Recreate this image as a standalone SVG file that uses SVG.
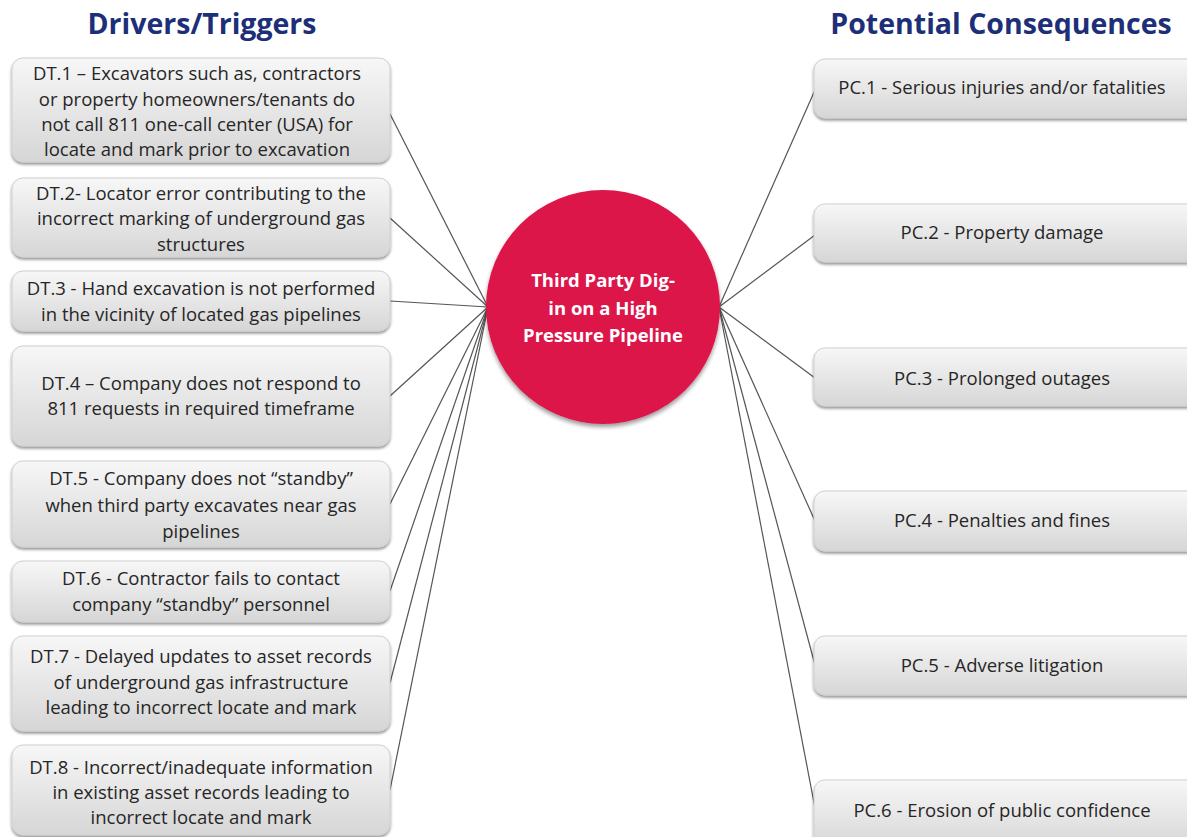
<svg xmlns="http://www.w3.org/2000/svg" width="1187" height="837" viewBox="0 0 1187 837">
<defs>
<linearGradient id="bg" x1="0" y1="0" x2="0" y2="1">
<stop offset="0" stop-color="#f7f7f7"/>
<stop offset="1" stop-color="#d6d6d6"/>
</linearGradient>
<filter id="sh" x="-5%" y="-10%" width="110%" height="130%">
<feGaussianBlur in="SourceAlpha" stdDeviation="1.5"/>
<feOffset dx="0" dy="2" result="b"/>
<feComponentTransfer><feFuncA type="linear" slope="0.45"/></feComponentTransfer>
<feMerge><feMergeNode/><feMergeNode in="SourceGraphic"/></feMerge>
</filter>
<filter id="csh" x="-10%" y="-10%" width="120%" height="125%">
<feGaussianBlur in="SourceAlpha" stdDeviation="2"/>
<feOffset dx="0" dy="3"/>
<feComponentTransfer><feFuncA type="linear" slope="0.4"/></feComponentTransfer>
<feMerge><feMergeNode/><feMergeNode in="SourceGraphic"/></feMerge>
</filter>
</defs>
<style>
.box{fill:url(#bg);stroke:#d0d0d0;stroke-width:1;filter:url(#sh)}
.t{font-family:"Open Sans","Liberation Sans",Arial,sans-serif;font-size:18.5px;fill:#262626;text-anchor:middle}
.title{font-family:"Open Sans","Liberation Sans",sans-serif;font-size:28.5px;font-weight:bold;fill:#1c2f78;text-anchor:middle}
.ct{font-family:"Open Sans","Liberation Sans",sans-serif;font-size:18.5px;font-weight:bold;fill:#ffffff;text-anchor:middle}
.c{stroke:#555;stroke-width:1.2;fill:none}
</style>
<rect width="1187" height="837" fill="#ffffff"/>
<text class="title" x="202" y="34">Drivers/Triggers</text>
<text class="title" x="1001" y="34">Potential Consequences</text>
<g id="connectors">
<line class="c" x1="388" y1="110" x2="488" y2="307"/>
<line class="c" x1="390" y1="218" x2="488" y2="307"/>
<line class="c" x1="390" y1="301" x2="488" y2="307"/>
<line class="c" x1="390" y1="396" x2="488" y2="307"/>
<line class="c" x1="390" y1="504" x2="488" y2="307"/>
<line class="c" x1="390" y1="591" x2="488" y2="307"/>
<line class="c" x1="390" y1="683" x2="488" y2="307"/>
<line class="c" x1="390" y1="790" x2="488" y2="307"/>
<line class="c" x1="719" y1="307" x2="815" y2="90"/>
<line class="c" x1="719" y1="307" x2="815" y2="235"/>
<line class="c" x1="719" y1="307" x2="815" y2="378"/>
<line class="c" x1="719" y1="307" x2="815" y2="521"/>
<line class="c" x1="719" y1="307" x2="815" y2="665"/>
<line class="c" x1="719" y1="307" x2="815" y2="808"/>
</g>
<g id="center">
<circle cx="603" cy="307" r="117" fill="#dc1449" filter="url(#csh)"/>
<text class="ct" x="603" y="287">Third Party Dig-</text>
<text class="ct" x="603" y="315">in on a High</text>
<text class="ct" x="603" y="342">Pressure Pipeline</text>
</g>
<g id="DT1"><rect class="box" x="12" y="58" width="378" height="104" rx="11"/>
<text class="t" x="197" y="80">DT.1 – Excavators such as, contractors</text>
<text class="t" x="197" y="106">or property homeowners/tenants do</text>
<text class="t" x="197" y="131">not call 811 one-call center (USA) for</text>
<text class="t" x="197" y="156">locate and mark prior to excavation</text></g>
<g id="DT2"><rect class="box" x="12" y="178" width="378" height="79" rx="11"/>
<text class="t" x="201" y="200">DT.2- Locator error contributing to the</text>
<text class="t" x="201" y="225">incorrect marking of underground gas</text>
<text class="t" x="201" y="251">structures</text></g>
<g id="DT3"><rect class="box" x="12" y="271" width="378" height="60" rx="11"/>
<text class="t" x="201" y="295">DT.3 - Hand excavation is not performed</text>
<text class="t" x="201" y="321">in the vicinity of located gas pipelines</text></g>
<g id="DT4"><rect class="box" x="12" y="346" width="378" height="100" rx="11"/>
<text class="t" x="201" y="390">DT.4 – Company does not respond to</text>
<text class="t" x="201" y="415">811 requests in required timeframe</text></g>
<g id="DT5"><rect class="box" x="12" y="461" width="378" height="86" rx="11"/>
<text class="t" x="201" y="485">DT.5 - Company does not “standby”</text>
<text class="t" x="201" y="512">when third party excavates near gas</text>
<text class="t" x="201" y="538">pipelines</text></g>
<g id="DT6"><rect class="box" x="12" y="561" width="378" height="61" rx="11"/>
<text class="t" x="201" y="585">DT.6 - Contractor fails to contact</text>
<text class="t" x="201" y="611">company “standby” personnel</text></g>
<g id="DT7"><rect class="box" x="12" y="636" width="378" height="95" rx="11"/>
<text class="t" x="201" y="663">DT.7 - Delayed updates to asset records</text>
<text class="t" x="201" y="689">of underground gas infrastructure</text>
<text class="t" x="201" y="714">leading to incorrect locate and mark</text></g>
<g id="DT8"><rect class="box" x="12" y="745" width="378" height="90" rx="11"/>
<text class="t" x="201" y="774">DT.8 - Incorrect/inadequate information</text>
<text class="t" x="201" y="799">in existing asset records leading to</text>
<text class="t" x="201" y="824">incorrect locate and mark</text></g>
<g id="PC1"><rect class="box" x="814" y="59" width="385" height="59" rx="11"/>
<text class="t" x="1002" y="94">PC.1 - Serious injuries and/or fatalities</text></g>
<g id="PC2"><rect class="box" x="814" y="204" width="385" height="58" rx="11"/>
<text class="t" x="1002" y="239">PC.2 - Property damage</text></g>
<g id="PC3"><rect class="box" x="814" y="348" width="385" height="58" rx="11"/>
<text class="t" x="1002" y="385">PC.3 - Prolonged outages</text></g>
<g id="PC4"><rect class="box" x="814" y="491" width="385" height="60" rx="11"/>
<text class="t" x="1002" y="527">PC.4 - Penalties and fines</text></g>
<g id="PC5"><rect class="box" x="814" y="636" width="385" height="59" rx="11"/>
<text class="t" x="1002" y="672">PC.5 - Adverse litigation</text></g>
<g id="PC6"><rect class="box" x="814" y="780" width="385" height="70" rx="11"/>
<text class="t" x="1002" y="817">PC.6 - Erosion of public confidence</text></g>
</svg>
